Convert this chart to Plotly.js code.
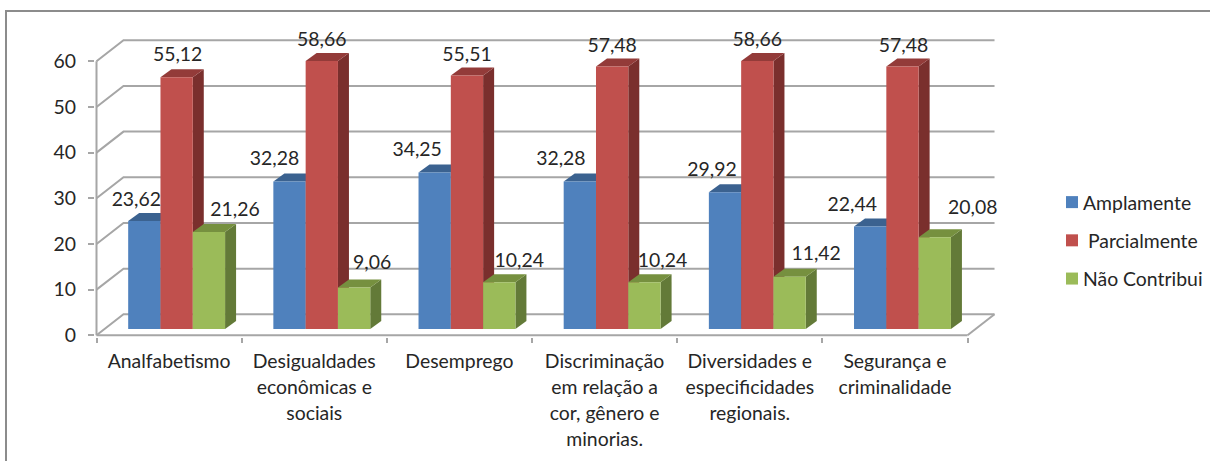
<!DOCTYPE html>
<html><head><meta charset="utf-8">
<script src="https://cdn.plot.ly/plotly-3.0.1.min.js"></script>
<style>html,body{margin:0;padding:0;background:#fff}</style></head>
<body><div id="chart" style="width:1210px;height:461px"></div>
<script>
const categories = ["Analfabetismo","Desigualdades<br>econômicas e<br>sociais","Desemprego","Discriminação<br>em relação a<br>cor, gênero e<br>minorias.","Diversidades e<br>especificidades<br>regionais.","Segurança e<br>criminalidade"];
const seriesNames = ["Amplamente","\u00A0Parcialmente","Não Contribui"];
const amplamente = [23.62,32.28,34.25,32.28,29.92,22.44];
const parcialmente = [55.12,58.66,55.51,57.48,58.66,57.48];
const naoContribui = [21.26,9.06,10.24,10.24,11.42,20.08];
const yTicks = [0,10,20,30,40,50,60];

const frontColors = ["#4F81BD","#C0504D","#9BBB59"];
const topColors = ["#3B6290","#933B39","#76903F"];
const sideColors = ["#2F4F75","#7A2F2D","#637A38"];
const gridColor = "#A6A6A6", textColor = "#262626";
const fontFamily = "Lato, sans-serif", fontSize = 19.4;

// Geometry of the pseudo-3D box
const pxX = 145.17, pxY = 4.567;
const wallDx = 27/pxX, wallDy = 21/pxY;
const barW = 0.2225, barCenter = 0.552, barBase = 1.38;
const depthDx = 11/pxX, depthDy = 8/pxY;

const series = [amplamente, parcialmente, naoContribui];
// label nudges in pixels, relative to the bar's centre and top
const labelDx = [[-8,-15,-17.5,-19,-13,-18],[1,0,0,0,0,1],[26,18,20,18,26.5,38]];
const labelLift = [[20,21,21,21,21,20],[21,20,19,19,20,19],[21,23,20,20,22,28]];

const shapes = [];
const poly = (pts, fill) => shapes.push({type:"path", layer:"below", xref:"x", yref:"y",
  path:"M"+pts.map(p=>p.join(",")).join("L")+"Z", fillcolor:fill, line:{width:0}});
const stroke = (pts, extra) => shapes.push(Object.assign({type:"path", layer:"below", xref:"x", yref:"y",
  path:"M"+pts.map(p=>p.join(",")).join("L"), line:{color:gridColor,width:2}}, extra||{}));

yTicks.forEach(v => stroke([[0,v],[wallDx,v+wallDy],[categories.length+wallDx,v+wallDy]]));
stroke([[categories.length,0],[categories.length+wallDx,wallDy]]);
stroke([[0,0],[0,60]]);
stroke([[0,0],[categories.length,0]]);

series.forEach((vals,j) => vals.forEach((v,i) => {
  const xl = i+barCenter+(j-1.5)*barW, xr = xl+barW, top = barBase+v;
  poly([[xr,barBase],[xr+depthDx,barBase+depthDy],[xr+depthDx,top+depthDy],[xr,top]], sideColors[j]);
  poly([[xl,top],[xl+depthDx,top+depthDy],[xr+depthDx,top+depthDy],[xr,top]], topColors[j]);
}));

// Outer frame: left and top edges only, running off the picture
shapes.push({type:"path", layer:"below", xref:"paper", yref:"paper",
  path:`M${-89/902},${(337-470)/299}L${-89/902},${(337-11)/299}L${(1215-95)/902},${(337-11)/299}`,
  line:{color:"#8C8C8C",width:2}});

const traces = series.map((vals,j) => ({
  type:"bar", name:seriesNames[j], legendgroup:"s"+j,
  x:vals.map((_,i)=>i+barCenter), y:vals, base:barBase,
  marker:{color:frontColors[j], line:{width:0}}, hoverinfo:"name+y"
}));
series.forEach((vals,j) => traces.push({
  type:"scatter", mode:"text", showlegend:false, cliponaxis:false, hoverinfo:"skip",
  x:vals.map((_,i)=>i+barCenter+(j-1)*barW+labelDx[j][i]/pxX),
  y:vals.map((v,i)=>barBase+v+labelLift[j][i]/pxY),
  text:vals.map(v=>v.toFixed(2).replace(".",",")),
  textposition:"middle center",
  textfont:{family:fontFamily,size:fontSize,color:textColor}
}));

const layout = {
  width:1210, height:461, paper_bgcolor:"#fff", plot_bgcolor:"#fff", showlegend:true,
  margin:{l:95,r:213,t:38,b:124,pad:0,autoexpand:false},
  font:{family:fontFamily,size:fontSize,color:textColor},
  barmode:"group", bargap:1-3*barW, bargroupgap:0,
  xaxis:{type:"linear", range:[-1.5/pxX,(997-96.5)/pxX], showgrid:false, zeroline:false, showline:false,
    tickmode:"array", tickvals:categories.map((_,i)=>i+0.5),
    ticktext:categories.map(c=>c.split("<br>").map(s=>`<span style="font-size:${fontSize}px">${s}</span>`).join("<br>")),
    ticks:"", tickangle:0, tickfont:{family:fontFamily,size:20,color:textColor}, ticklabelstandoff:10,
    minor:{tickmode:"array", tickvals:categories.map((_,i)=>i).concat([categories.length]), ticks:"outside", ticklen:5, tickwidth:2, tickcolor:gridColor, showgrid:false}},
  yaxis:{range:[-1.7/pxY,297.3/pxY], showgrid:false, zeroline:false, showline:false,
    tickmode:"array", tickvals:yTicks, ticks:"outside", ticklen:6, tickwidth:2, tickcolor:gridColor,
    tickfont:{family:fontFamily,size:fontSize,color:textColor}, ticklabelstandoff:8},
  legend:{x:(1052-95)/902, xanchor:"left", y:(337-183)/299, yanchor:"top", tracegroupgap:10,
    bgcolor:"rgba(0,0,0,0)", font:{family:fontFamily,size:fontSize,color:textColor}},
  shapes
};
Plotly.newPlot("chart", traces, layout, {displayModeBar:false, responsive:false}).then(() => {
  document.querySelectorAll("#chart .legendtext").forEach(t => t.setAttribute("x", parseFloat(t.getAttribute("x"))-9));
});
</script></body></html>
